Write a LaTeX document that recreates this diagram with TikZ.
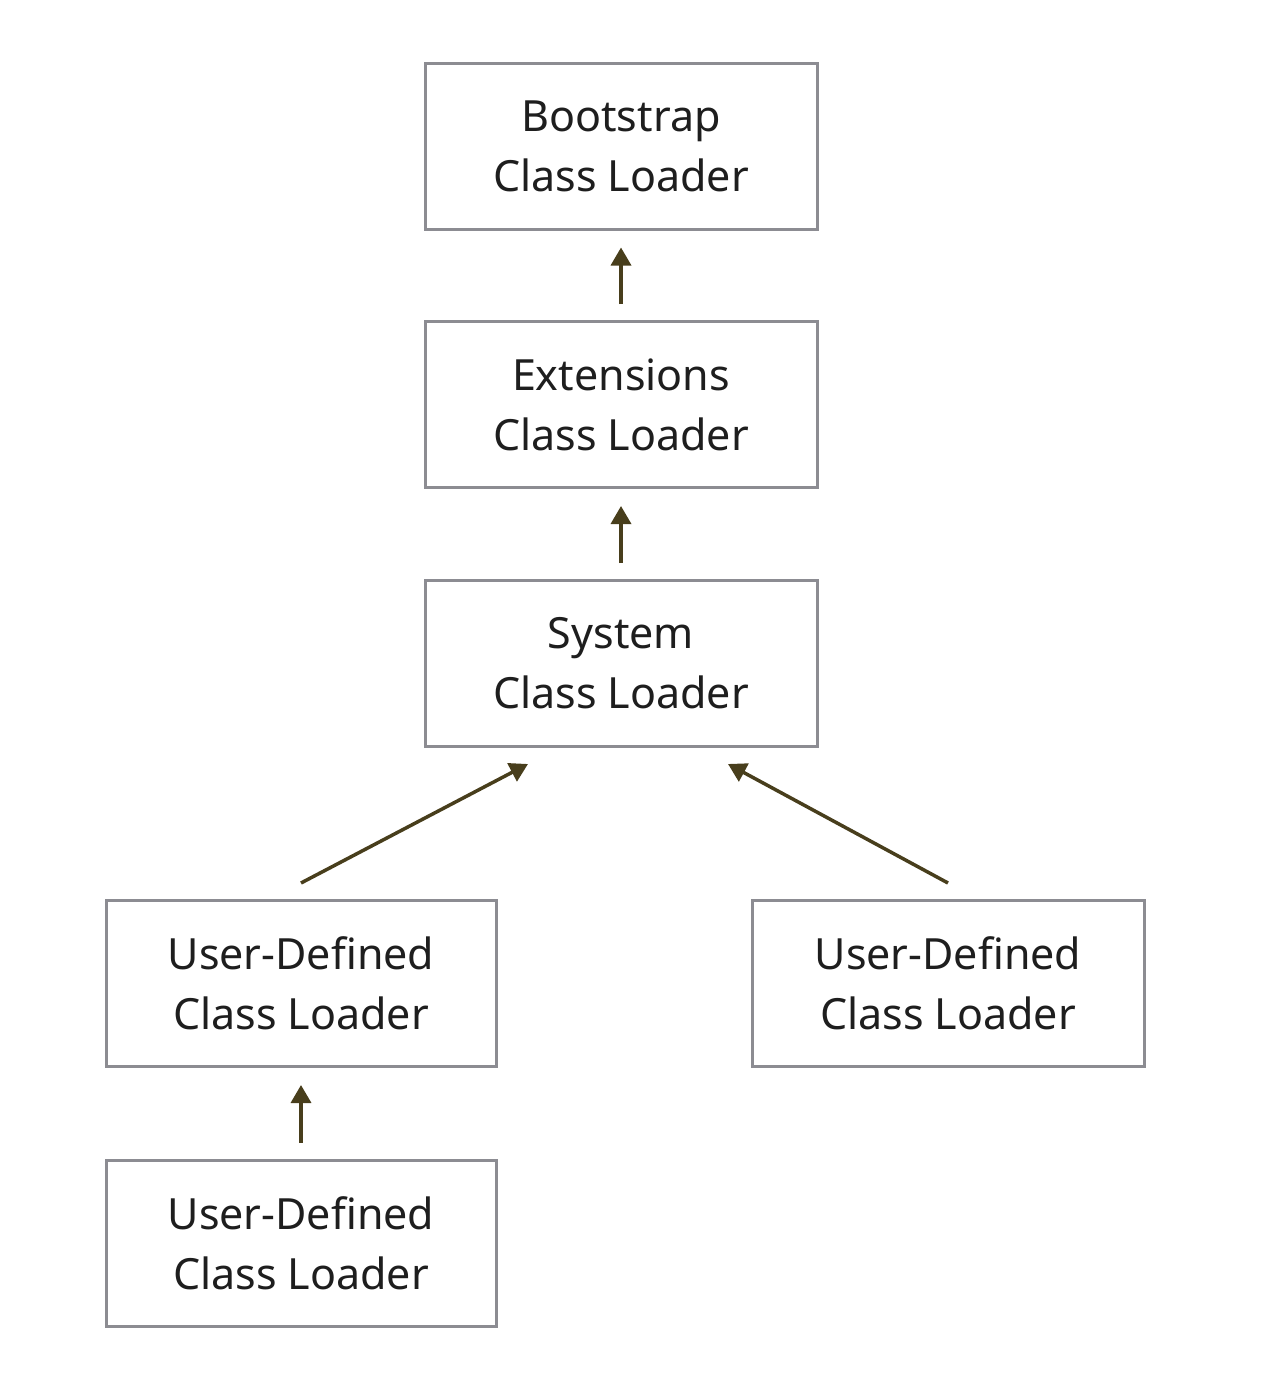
\documentclass[tikz,border=0pt]{standalone}
\usepackage{fontspec}
\setmainfont{Noto Sans}
\usetikzlibrary{arrows.meta,calc}
\definecolor{boxgray}{RGB}{140,140,146}
\definecolor{arrolive}{RGB}{72,62,28}
\definecolor{txt}{RGB}{30,30,30}
\tikzset{
  loader/.style={draw=boxgray, line width=3pt, minimum width=392pt, minimum height=166pt,
    inner sep=0pt, align=center, text=txt, font=\fontsize{43}{60}\selectfont},
  arr/.style={draw=arrolive, line width=3.5pt, -{Triangle[length=18pt,width=20pt]}}
}
\begin{document}
\begin{tikzpicture}[x=1pt,y=-1pt]
\useasboundingbox (0,0) rectangle (1280,1374);
\node[loader] (boot) at (621,146) {Bootstrap\\Class Loader};
\node[loader] (ext) at (621,404.5) {Extensions\\Class Loader};
\node[loader] (sys) at (621,663.5) {System\\Class Loader};
\node[loader, minimum width=390pt] (udl) at (301,983.5) {User-Defined\\Class Loader};
\node[loader] (udr) at (948,983.5) {User-Defined\\Class Loader};
\node[loader, minimum width=390pt] (udb) at (301,1243) {User-Defined\\Class Loader};
\draw[arr] ([yshift=16pt]ext.north) -- ([yshift=-17pt]boot.south);
\draw[arr] ([yshift=16pt]sys.north) -- ([yshift=-17pt]ext.south);
\draw[arr] ([yshift=16pt]udl.north) -- ([xshift=-93pt,yshift=-16pt]sys.south);
\draw[arr] ([yshift=16pt]udr.north) -- ([xshift=107pt,yshift=-16pt]sys.south);
\draw[arr] ([yshift=16pt]udb.north) -- ([yshift=-17pt]udl.south);
\end{tikzpicture}
\end{document}
